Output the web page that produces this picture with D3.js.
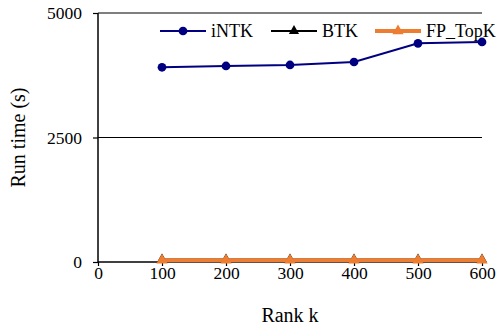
<!DOCTYPE html>
<html>
<head>
<meta charset="utf-8">
<script src="https://cdn.jsdelivr.net/npm/d3@7"></script>
<style>
  body { margin: 0; background: #fff; }
</style>
</head>
<body>
<div id="chart"></div>
<script>
// Run time vs rank k

var rankK = [100, 200, 300, 400, 500, 600];
var intkTime = [3910, 3936, 3956, 4016, 4391, 4418];
var btkTime = [50, 50, 50, 50, 50, 50];
var fpTopkTime = [35, 35, 35, 35, 35, 35];
var yTicks = [0, 2500, 5000];
var xTicks = [0, 100, 200, 300, 400, 500, 600];

var series = [
  {name: 'iNTK', values: intkTime, color: '#000080', width: 2, symbol: d3.symbolCircle, size: 60},
  {name: 'BTK', values: btkTime, color: '#000000', width: 2, symbol: d3.symbolTriangle, size: 45},
  {name: 'FP_TopK', values: fpTopkTime, color: '#ED7D31', width: 4, symbol: d3.symbolTriangle, size: 55}
];

var serif = '"Liberation Serif"';
var width = 499, height = 330;
var margin = {top: 13, right: 17, bottom: 68, left: 98};
var plotH = height - margin.top - margin.bottom;

var svg = d3.select('#chart').append('svg')
  .attr('width', width)
  .attr('height', height)
  .attr('font-family', serif);
var plot = svg.append('g')
  .attr('transform', 'translate(' + margin.left + ',' + margin.top + ')');

var x = d3.scaleLinear().domain([0, 600]).range([0, 384]);
var y = d3.scaleLinear().domain([0, 5000]).range([plotH, 0]);

// gridlines
plot.append('g')
  .selectAll('line')
  .data(yTicks.filter(function(d) { return d > 0; }))
  .enter().append('line')
  .attr('x1', 0).attr('x2', x(600))
  .attr('y1', y).attr('y2', y)
  .attr('stroke', '#000').attr('stroke-width', 1.2);

// axes
var yAxis = plot.append('g')
  .call(d3.axisLeft(y).tickValues(yTicks).tickSize(5).tickPadding(11).tickFormat(d3.format('d')));
var xAxis = plot.append('g')
  .attr('transform', 'translate(0,' + plotH + ')')
  .call(d3.axisBottom(x).tickValues(xTicks).tickSize(4).tickPadding(1).tickFormat(d3.format('d')));
[yAxis, xAxis].forEach(function(a) {
  a.attr('font-family', serif).attr('font-size', 17.5);
  a.selectAll('text').attr('font-family', serif).attr('fill', '#000');
  a.select('.domain').attr('stroke', '#000').attr('stroke-width', 1.5);
  a.selectAll('.tick line').attr('stroke', '#000').attr('stroke-width', 1.2);
});
xAxis.select('.domain').attr('d', 'M0,0H' + x(600));
yAxis.select('.domain').attr('d', 'M0,' + plotH + 'V0');

// lines
var line = d3.line()
  .x(function(d, i) { return x(rankK[i]); })
  .y(function(d) { return y(d); });

series.forEach(function(s) {
  var g = plot.append('g');
  g.append('path')
    .datum(s.values)
    .attr('d', line)
    .attr('fill', 'none')
    .attr('stroke', s.color)
    .attr('stroke-width', s.width);
  g.selectAll('path.pt')
    .data(s.values)
    .enter().append('path')
    .attr('class', 'pt')
    .attr('d', d3.symbol().type(s.symbol).size(s.size))
    .attr('transform', function(d, i) { return 'translate(' + x(rankK[i]) + ',' + y(d) + ')'; })
    .attr('fill', s.color);
});

// legend
var legendX = [160, 271, 375];
var legend = svg.append('g');
series.forEach(function(s, i) {
  var lg = legend.append('g').attr('transform', 'translate(' + legendX[i] + ',31)');
  lg.append('line')
    .attr('x1', 0).attr('x2', 46)
    .attr('stroke', s.color).attr('stroke-width', s.width);
  lg.append('path')
    .attr('d', d3.symbol().type(s.symbol).size(s.size))
    .attr('transform', 'translate(23,0)')
    .attr('fill', s.color);
  lg.append('text')
    .attr('x', 51).attr('y', 6)
    .attr('font-size', 18)
    .text(s.name);
});

// axis titles
svg.append('text')
  .attr('x', margin.left + x(300)).attr('y', 322)
  .attr('text-anchor', 'middle')
  .attr('font-size', 20)
  .text('Rank k');
svg.append('text')
  .attr('transform', 'translate(25,' + (margin.top + plotH / 2) + ') rotate(-90)')
  .attr('text-anchor', 'middle')
  .attr('font-size', 20)
  .text('Run time (s)');
</script>
</body>
</html>
